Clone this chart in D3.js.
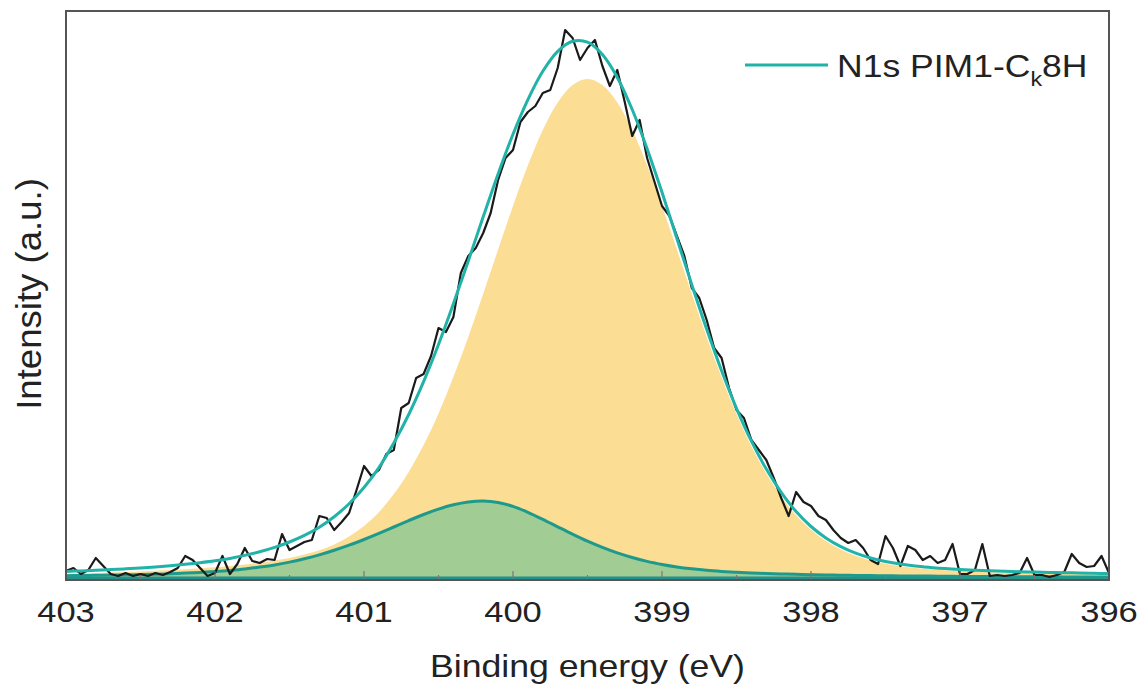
<!DOCTYPE html>
<html>
<head>
<meta charset="utf-8">
<script src="https://cdn.jsdelivr.net/npm/d3@7"></script>
<style>
  html, body { margin: 0; padding: 0; background: #fff; }
  svg { display: block; }
</style>
</head>
<body>
<svg id="chart" width="1143" height="686"></svg>
<script>
// Binding-energy axis ticks (eV)
const xTicks = [403, 402, 401, 400, 399, 398, 397, 396];
const xMinorTicks = [402.5, 401.5, 400.5, 399.5, 398.5, 397.5, 396.5];

// Fitted curves, sampled every 0.1 eV from 403.0 down to 396.0
const fitEnergy = d3.range(71).map(i => +(403 - i * 0.1).toFixed(2));
const peakMain = [4.3, 4.6, 5.0, 5.5, 6.0, 6.6, 7.3, 8.0, 8.8, 9.7, 10.7, 12.0, 13.6, 15.3, 17.5,
  20.1, 23.4, 27.7, 33.6, 41.5, 52.0, 65.8, 83.9, 106.1, 132.9, 164.6, 201.0, 241.1, 284.2, 328.4,
  372.1, 412.7, 448.0, 475.5, 492.9, 499.0, 492.9, 475.5, 448.0, 412.7, 372.1, 328.4, 284.2, 241.0,
  200.7, 164.0, 131.8, 104.4, 81.6, 62.7, 48.2, 37.0, 28.6, 22.2, 17.6, 14.2, 11.8, 10.0, 8.7, 7.7,
  6.9, 6.3, 5.8, 5.4, 5.0, 4.7, 4.4, 4.2, 3.9, 3.7, 3.5];
const peakMinor = [2.3, 2.5, 2.7, 2.9, 3.2, 3.5, 3.8, 4.3, 4.9, 5.6, 6.5, 7.6, 9.0, 10.9, 13.1,
  15.9, 19.2, 23.1, 27.7, 32.8, 38.5, 44.6, 51.0, 57.4, 63.5, 68.9, 73.2, 76.0, 77.0, 75.6, 71.6,
  65.7, 58.7, 51.2, 43.8, 36.8, 30.6, 25.1, 20.5, 16.6, 13.6, 11.1, 9.2, 7.7, 6.6, 5.7, 5.0, 4.5,
  4.0, 3.7, 3.3, 3.1, 2.8, 2.6, 2.4, 2.3, 2.1, 2.0, 1.9, 1.7, 1.6, 1.5, 1.5, 1.4, 1.3, 1.2, 1.2,
  1.1, 1.1, 1.0, 1.0];
const envelope = [6.6, 7.1, 7.7, 8.4, 9.2, 10.1, 11.1, 12.3, 13.7, 15.3, 17.2, 19.6, 22.6, 26.2, 30.6,
  36.0, 42.6, 50.8, 61.3, 74.3, 90.5, 110.4, 134.9, 163.5, 196.4, 233.5, 274.2, 317.1, 361.2, 404.0,
  443.7, 478.4, 506.7, 526.7, 536.7, 535.8, 523.5, 500.6, 468.5, 429.3, 385.7, 339.5, 293.4, 248.7,
  207.3, 169.7, 136.8, 108.9, 85.6, 66.4, 51.5, 40.1, 31.4, 24.8, 20.0, 16.5, 13.9, 12.0, 10.6, 9.4,
  8.5, 7.8, 7.3, 6.8, 6.3, 5.9, 5.6, 5.3, 5.0, 4.7, 4.5];

// Measured N1s counts, every 0.05 eV from 403.00 down to 396.00
const rawEnergy = d3.range(141).map(i => +(403 - i * 0.05).toFixed(2));
const rawCounts = [7, 10, 4, 8, 20, 12, 4, 2, 5, 2, 4, 2, 5, 3, 6, 10, 22, 18, 10, 2,
  5, 22, 4, 14, 30, 17, 15, 19, 18, 44, 28, 32, 36, 38, 62, 60, 48, 56, 65, 88,
  112, 102, 108, 124, 128, 170, 175, 200, 204, 222, 250, 246, 261, 305, 322, 330, 345, 365, 398, 420,
  428, 456, 466, 472, 485, 488, 510, 548, 540, 518, 530, 538, 512, 492, 508, 476, 442, 458, 420, 396,
  372, 362, 342, 322, 290, 280, 258, 230, 220, 190, 168, 160, 138, 128, 118, 100, 80, 62, 86, 76,
  72, 62, 58, 48, 40, 35, 38, 30, 18, 14, 42, 30, 12, 32, 28, 18, 22, 15, 18, 34,
  4, 4, 8, 34, 2, 3, 2, 3, 5, 20, 3, 3, 1, 3, 6, 24, 15, 11, 12, 22, 5];

const svg = d3.select("#chart");
const plot = { left: 66, right: 1109, top: 11, bottom: 580 };

const x = d3.scaleLinear().domain([403, 396]).range([plot.left, plot.right]);
const y = d3.scaleLinear().domain([-2, 567]).range([plot.bottom, plot.top]);

const fontFamily = "'Liberation Sans', Arial, Helvetica, sans-serif";
const stretch = 1.15;

svg.append("defs").append("clipPath").attr("id", "plotClip")
  .append("rect")
  .attr("x", plot.left).attr("y", plot.top)
  .attr("width", plot.right - plot.left).attr("height", plot.bottom - plot.top);

const g = svg.append("g").attr("clip-path", "url(#plotClip)");

const fitRows = fitEnergy.map((e, i) => ({ e, main: peakMain[i], minor: peakMinor[i], env: envelope[i] }));
const rawRows = rawEnergy.map((e, i) => ({ e, v: rawCounts[i] }));

const smooth = d3.curveCatmullRom.alpha(0.5);

// Component areas
g.append("path")
  .datum(fitRows)
  .attr("fill", "#fbdd94")
  .attr("d", d3.area().curve(smooth).x(d => x(d.e)).y0(y(0)).y1(d => y(d.main)));

g.append("path")
  .datum(fitRows)
  .attr("fill", "#a1cd95")
  .attr("d", d3.area().curve(smooth).x(d => x(d.e)).y0(y(0)).y1(d => y(d.minor)));

// Baseline
g.append("line")
  .attr("x1", plot.left).attr("x2", plot.right)
  .attr("y1", y(0)).attr("y2", y(0))
  .attr("stroke", "#22918b").attr("stroke-width", 3);

// Minor component outline
g.append("path")
  .datum(fitRows)
  .attr("fill", "none")
  .attr("stroke", "#1d9a8c")
  .attr("stroke-width", 3)
  .attr("d", d3.line().curve(smooth).x(d => x(d.e)).y(d => y(d.minor)));

// Raw spectrum
g.append("path")
  .datum(rawRows)
  .attr("fill", "none")
  .attr("stroke", "#1a1a1a")
  .attr("stroke-width", 2.2)
  .attr("stroke-linejoin", "round")
  .attr("d", d3.line().x(d => x(d.e)).y(d => y(d.v)));

// Fitted envelope
g.append("path")
  .datum(fitRows)
  .attr("fill", "none")
  .attr("stroke", "#22b3a8")
  .attr("stroke-width", 3)
  .attr("d", d3.line().curve(smooth).x(d => x(d.e)).y(d => y(d.env)));

// Bottom axis ticks (pointing inward)
const ticks = svg.append("g");
ticks.selectAll("line.major").data(xTicks).join("line")
  .attr("class", "major")
  .attr("x1", d => x(d)).attr("x2", d => x(d))
  .attr("y1", plot.bottom).attr("y2", plot.bottom - 9)
  .attr("stroke", "#777").attr("stroke-width", 1.2);
ticks.selectAll("line.minor").data(xMinorTicks).join("line")
  .attr("class", "minor")
  .attr("x1", d => x(d)).attr("x2", d => x(d))
  .attr("y1", plot.bottom).attr("y2", plot.bottom - 5)
  .attr("stroke", "#777").attr("stroke-width", 1.2);

// Frame
svg.append("rect")
  .attr("x", plot.left).attr("y", plot.top)
  .attr("width", plot.right - plot.left).attr("height", plot.bottom - plot.top)
  .attr("fill", "none").attr("stroke", "#555").attr("stroke-width", 2);

// Tick labels
svg.append("g").selectAll("g").data(xTicks).join("g")
  .attr("transform", d => `translate(${x(d)},622) scale(${stretch},1)`)
  .append("text")
  .attr("text-anchor", "middle")
  .attr("font-family", fontFamily)
  .attr("font-size", 30)
  .attr("fill", "#222")
  .text(d => d);

// Axis titles
svg.append("g")
  .attr("transform", `translate(${(plot.left + plot.right) / 2},677) scale(${stretch},1)`)
  .append("text")
  .attr("text-anchor", "middle")
  .attr("font-family", fontFamily)
  .attr("font-size", 31)
  .attr("fill", "#222")
  .text("Binding energy (eV)");

svg.append("g")
  .attr("transform", `translate(41,294) scale(${stretch},1.18) rotate(-90)`)
  .append("text")
  .attr("text-anchor", "middle")
  .attr("font-family", fontFamily)
  .attr("font-size", 31)
  .attr("fill", "#222")
  .text("Intensity (a.u.)");

// Legend
svg.append("line")
  .attr("x1", 745).attr("x2", 828).attr("y1", 65).attr("y2", 65)
  .attr("stroke", "#22b3a8").attr("stroke-width", 3);

const legendText = svg.append("g")
  .attr("transform", `translate(837,77) scale(1.11,1)`)
  .append("text")
  .attr("font-family", fontFamily)
  .attr("font-size", 32)
  .attr("fill", "#222");
legendText.append("tspan").text("N1s PIM1-C");
legendText.append("tspan").attr("font-size", 21).attr("dy", 9).text("k");
legendText.append("tspan").attr("dy", -9).text("8H");
</script>
</body>
</html>
